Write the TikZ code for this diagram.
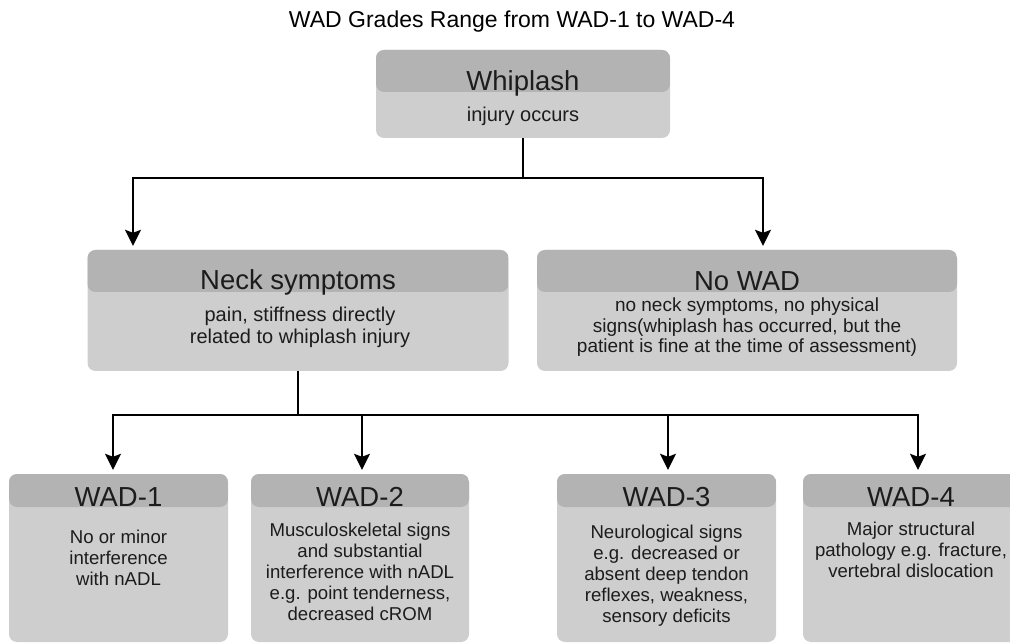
\documentclass[tikz,border=0pt]{standalone}
\usepackage{fontspec}
\setmainfont{Liberation Sans}
\usetikzlibrary{arrows.meta}
\definecolor{headgray}{RGB}{179,179,179}
\definecolor{bodygray}{RGB}{206,206,206}
\definecolor{ink}{RGB}{28,28,28}
\tikzset{
  box/.style={fill=bodygray, rounded corners=8pt, inner sep=0pt, draw=none,
    path picture={\fill[headgray] (path picture bounding box.north west) rectangle ([yshift=-#1]path picture bounding box.north east);}},
  head/.style={font=\fontsize{27.5}{30}\selectfont, text=ink, anchor=base, inner sep=0pt},
  body/.style={text=ink, anchor=base, inner sep=0pt, align=center},
  conn/.style={line width=1.8pt, black},
  arr/.style={conn, -{Stealth[length=16pt,width=16pt,inset=3pt]}, shorten >=4pt},
}
\begin{document}
\begin{tikzpicture}[x=1pt,y=-1pt]
\useasboundingbox (0,0) rectangle (1010,644);
\node[anchor=base, font=\fontsize{23}{26}\selectfont, inner sep=0pt] (title) at (512,28) {WAD Grades Range from WAD-1 to WAD-4};

% boxes
\node[box=42pt, minimum width=294pt, minimum height=88pt] (whip) at (523,94) {};
\node[box=42pt, minimum width=421pt, minimum height=121pt] (neck) at (298,310.5) {};
\node[box=42pt, minimum width=420pt, minimum height=121pt] (nowad) at (747,310.5) {};
\node[box=33pt, minimum width=219pt, minimum height=168pt] (w1) at (118.5,558) {};
\node[box=33pt, minimum width=218pt, minimum height=168pt] (w2) at (360,558) {};
\node[box=33pt, minimum width=219pt, minimum height=168pt] (w3) at (666.5,558) {};
\node[box=33pt, minimum width=216pt, minimum height=168pt] (w4) at (911,558) {};

% headers
\node[head] (whipH) at (523,91) {Whiplash};
\node[head] (neckH) at (298,290) {Neck symptoms};
\node[head] (nowadH) at (747,291) {No WAD};
\node[head] (w1H) at (118.5,506) {WAD-1};
\node[head] (w2H) at (360,506) {WAD-2};
\node[head] (w3H) at (666.5,506) {WAD-3};
\node[head] (w4H) at (911,506) {WAD-4};

% bodies (anchor base = baseline of the last line)
\node[body, font=\fontsize{20}{22}\selectfont] (whipB) at (523,122) {injury occurs};
\node[body, font=\fontsize{20}{22}\selectfont] (neckB) at (300,344) {pain, stiffness directly\\related to whiplash injury};
\node[body, font=\fontsize{19}{20.5}\selectfont] (nowadB) at (747,353) {no neck symptoms, no physical\\signs(whiplash has occurred, but the\\patient is fine at the time of assessment)};
\node[body, font=\fontsize{18.6}{21}\selectfont] (w1B) at (118.5,585) {No or minor\\interference\\with nADL};
\node[body, font=\fontsize{18.6}{20.8}\selectfont] (w2B) at (360,620) {Musculoskeletal signs\\and substantial\\interference with nADL\\e.g. point tenderness,\\decreased cROM};
\node[body, font=\fontsize{18.6}{21}\selectfont] (w3B) at (666.5,622) {Neurological signs\\e.g. decreased or\\absent deep tendon\\reflexes, weakness,\\sensory deficits};
\node[body, font=\fontsize{18.6}{21}\selectfont] (w4B) at (911,577) {Major structural\\pathology e.g. fracture,\\vertebral dislocation};

% connectors
\coordinate (x1) at (133,0);
\coordinate (x2) at (763,0);
\coordinate (x3) at (113,0);
\coordinate (x4) at (362,0);
\coordinate (x5) at (668,0);
\coordinate (x6) at (918,0);
\draw[conn] (whip.south) -- ++(0,40) coordinate (j1);
\draw[arr] (j1) -| (neck.north -| x1);
\draw[arr] (j1) -| (nowad.north -| x2);
\draw[conn] (neck.south) -- ++(0,44) coordinate (j2);
\draw[arr] (j2) -| (w1.north -| x3);
\draw[arr] (j2) -| (w2.north -| x4);
\draw[arr] (j2) -| (w3.north -| x5);
\draw[arr] (j2) -| (w4.north -| x6);
\end{tikzpicture}
\end{document}
